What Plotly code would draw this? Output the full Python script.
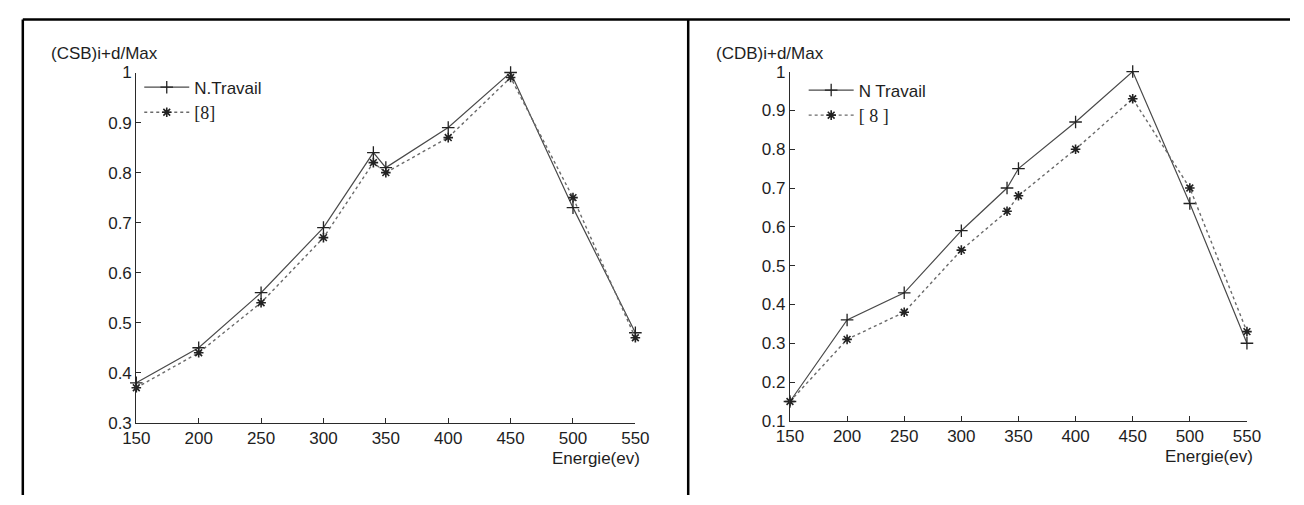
import plotly.graph_objects as go

# ---------------- data ----------------
energy = [150, 200, 250, 300, 340, 350, 400, 450, 500, 550]

csb_travail = [0.38, 0.45, 0.56, 0.69, 0.84, 0.81, 0.89, 1.00, 0.73, 0.48]
csb_ref8 = [0.37, 0.44, 0.54, 0.67, 0.82, 0.80, 0.87, 0.99, 0.75, 0.47]

cdb_travail = [0.15, 0.36, 0.43, 0.59, 0.70, 0.75, 0.87, 1.00, 0.66, 0.30]
cdb_ref8 = [0.15, 0.31, 0.38, 0.54, 0.64, 0.68, 0.80, 0.93, 0.70, 0.33]

x_ticks = [150, 200, 250, 300, 350, 400, 450, 500, 550]
x_ticktext = ["150", "200", "250", "300", "350", "400", "450", "500", "550"]
y_ticks_left = [0.3, 0.4, 0.5, 0.6, 0.7, 0.8, 0.9, 1.0]
y_ticktext_left = ["0.3", "0.4", "0.5", "0.6", "0.7", "0.8", "0.9", "1"]
y_ticks_right = [0.1, 0.2, 0.3, 0.4, 0.5, 0.6, 0.7, 0.8, 0.9, 1.0]
y_ticktext_right = ["0.1", "0.2", "0.3", "0.4", "0.5", "0.6", "0.7", "0.8", "0.9", "1"]

name_left_1 = "N.Travail"
name_right_1 = "N Travail"
name_left_2 = "[8]"
name_right_2 = "[ 8 ]"
ytitle_left = "(CSB)i+d/Max"
ytitle_right = "(CDB)i+d/Max"
xtitle = "Energie(ev)"

# ---------------- figure ----------------
W, H = 1304, 505
SANS = "Liberation Sans, Arial, sans-serif"
SERIF_SPAN = '<span style="font-family:Liberation Serif, Times New Roman, serif;font-size:18px">'
TXT = "#1e1e1e"


def px(x):
    return x / W


def py(y):
    return (H - y) / H


fig = go.Figure()

solid_line = dict(color="#4a4a4a", width=1.2)
dot_line = dict(color="#6a6a6a", width=1.4, dash="dot")
plus_marker = dict(symbol="cross-thin-open", size=9, color="#222",
                   line=dict(color="#222", width=1.3))
star_marker = dict(symbol="asterisk-open", size=8, color="#222",
                   line=dict(color="#222", width=1.6))

fig.add_trace(go.Scatter(x=energy, y=csb_travail, mode="lines+markers",
                         name=name_left_1, line=solid_line, marker=plus_marker,
                         xaxis="x", yaxis="y", legend="legend", cliponaxis=False))
fig.add_trace(go.Scatter(x=energy, y=csb_ref8, mode="lines+markers",
                         name=SERIF_SPAN + name_left_2 + "</span>",
                         line=dot_line, marker=star_marker,
                         xaxis="x", yaxis="y", legend="legend", cliponaxis=False))
fig.add_trace(go.Scatter(x=energy, y=cdb_travail, mode="lines+markers",
                         name=name_right_1, line=solid_line, marker=plus_marker,
                         xaxis="x2", yaxis="y2", legend="legend2", cliponaxis=False))
fig.add_trace(go.Scatter(x=energy, y=cdb_ref8, mode="lines+markers",
                         name=SERIF_SPAN + name_right_2 + "</span>",
                         line=dot_line, marker=star_marker,
                         xaxis="x2", yaxis="y2", legend="legend2", cliponaxis=False))

axis_common = dict(showline=True, linecolor="#2a2a2a", linewidth=1.2,
                   showgrid=False, zeroline=False, mirror=False,
                   ticks="inside", ticklen=5, tickwidth=1.1, tickcolor="#2a2a2a",
                   tickfont=dict(family=SANS, size=17, color=TXT))

fig.update_layout(
    width=W, height=H, autosize=False,
    margin=dict(l=0, r=0, t=0, b=0),
    paper_bgcolor="white", plot_bgcolor="white",
    xaxis=dict(domain=[px(125), px(635)], range=[150, 550], anchor="y",
               tickvals=x_ticks, ticktext=x_ticktext, **axis_common),
    yaxis=dict(domain=[py(430), py(66)], range=[0.3, 1.0], anchor="x",
               tickvals=y_ticks_left, ticktext=y_ticktext_left, **axis_common),
    xaxis2=dict(domain=[px(793), px(1260)], range=[150, 550], anchor="y2",
                tickvals=x_ticks, ticktext=x_ticktext, **axis_common),
    yaxis2=dict(domain=[py(428), py(65)], range=[0.1, 1.0], anchor="x2",
                tickvals=y_ticks_right, ticktext=y_ticktext_right, **axis_common),
    legend=dict(x=px(128), y=py(63), xanchor="left", yanchor="top",
                bgcolor="rgba(0,0,0,0)", borderwidth=0, itemwidth=45,
                font=dict(family=SANS, size=17, color=TXT), tracegroupgap=0),
    legend2=dict(x=px(807), y=py(66), xanchor="left", yanchor="top",
                 bgcolor="rgba(0,0,0,0)", borderwidth=0, itemwidth=45,
                 font=dict(family=SANS, size=17, color=TXT), tracegroupgap=0),
    showlegend=True,
)

# axis titles as annotations (placed like the original MATLAB labels)
fig.add_annotation(xref="paper", yref="paper", x=px(36), y=py(46),
                   xanchor="left", yanchor="middle", showarrow=False,
                   text=ytitle_left, font=dict(family=SANS, size=17, color=TXT))
fig.add_annotation(xref="paper", yref="paper", x=px(715), y=py(46),
                   xanchor="left", yanchor="middle", showarrow=False,
                   text=ytitle_right, font=dict(family=SANS, size=17, color=TXT))
fig.add_annotation(xref="paper", yref="paper", x=px(642), y=py(467),
                   xanchor="right", yanchor="middle", showarrow=False,
                   text=xtitle, font=dict(family=SANS, size=17, color=TXT))
fig.add_annotation(xref="paper", yref="paper", x=px(1268), y=py(465),
                   xanchor="right", yanchor="middle", showarrow=False,
                   text=xtitle, font=dict(family=SANS, size=17, color=TXT))

# frame lines around the two panels
frame = dict(type="line", xref="paper", yref="paper", line=dict(color="black", width=2.5))
fig.add_shape(x0=px(9), x1=1.0, y0=py(11), y1=py(11), **frame)
fig.add_shape(x0=px(9), x1=px(9), y0=py(11), y1=0.0, **frame)
fig.add_shape(x0=px(689), x1=px(689), y0=py(11), y1=0.0, **frame)

fig.write_html(
    "out.html",
    post_script="document.body.style.margin='0';document.body.style.overflow='hidden';",
)
